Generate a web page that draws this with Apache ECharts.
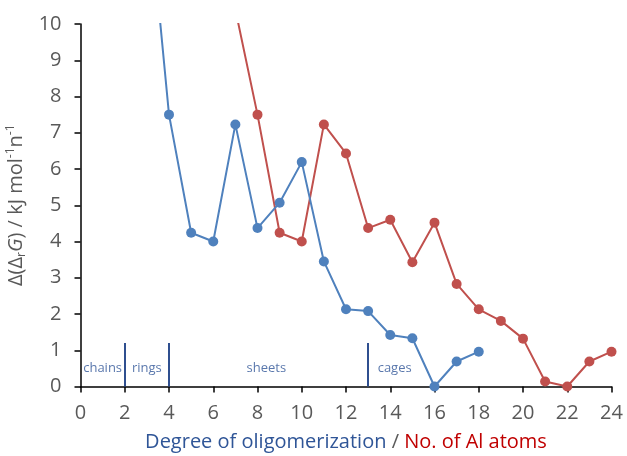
<!DOCTYPE html>
<html><head><meta charset="utf-8">
<script src="https://cdn.jsdelivr.net/npm/echarts@6/dist/echarts.min.js"></script>
<style>html,body{margin:0;padding:0;background:#fff}#c{width:627px;height:456px}</style>
</head><body><div id="c"></div>
<script>
var blueX = [3, 4, 5, 6, 7, 8, 9, 10, 11, 12, 13, 14, 15, 16, 17, 18];
var blueY = [13.9, 7.5, 4.24, 4.0, 7.23, 4.37, 5.07, 6.19, 3.45, 2.13, 2.08, 1.42, 1.33, 0.0, 0.69, 0.96];
var redX = [7, 8, 9, 10, 11, 12, 13, 14, 15, 16, 17, 18, 19, 20, 21, 22, 23, 24];
var redY = [10.4, 7.5, 4.24, 4.0, 7.23, 6.43, 4.37, 4.6, 3.43, 4.52, 2.83, 2.13, 1.81, 1.32, 0.14, 0.0, 0.69, 0.96];
var dividerX = [2, 4, 13];
var dividerTop = 1.2;
var regionNames = ['chains', 'rings', 'sheets', 'cages'];
var regionX = [1, 3, 8.4, 14.2];
var regionY = [0.5, 0.5, 0.5, 0.5];
var xTicks = [0, 2, 4, 6, 8, 10, 12, 14, 16, 18, 20, 22, 24];
var yTicks = [0, 1, 2, 3, 4, 5, 6, 7, 8, 9, 10];

var BLUE = '#4F81BD', RED = '#C0504D', DARK = '#2F4F8F';
var chart = echarts.init(document.getElementById('c'));
function pairs(xs, ys){ return xs.map(function(x,i){return [x, ys[i]];}); }

chart.setOption({
  animation: false,
  grid: {left: 80.5, right: 15.5, top: 24, bottom: 69.5, containLabel: false, outerBoundsMode: 'none'},
  xAxis: {
    type: 'value', min: 0, max: 24, interval: 2,
    axisLine: {lineStyle: {color: '#000', width: 1.5}},
    axisTick: {show: true, length: 6, lineStyle: {color: '#000', width: 1.5}},
    axisLabel: {color: '#595959', fontSize: 20, fontFamily: 'Open Sans', margin: 17},
    splitLine: {show: false},
    name: '{b|Degree of oligomerization}{g| / }{r|No. of Al atoms}',
    nameLocation: 'middle', nameGap: 46,
    nameTextStyle: {
      rich: {
        b: {color: '#2F5597', fontSize: 20, fontFamily: 'Open Sans'},
        g: {color: '#595959', fontSize: 20, fontFamily: 'Open Sans'},
        r: {color: '#C00000', fontSize: 20, fontFamily: 'Open Sans'}
      }
    }
  },
  yAxis: {
    type: 'value', min: 0, max: 10, interval: 1,
    axisLine: {show: true, lineStyle: {color: '#000', width: 1.5}},
    axisTick: {show: true, length: 6, lineStyle: {color: '#000', width: 1.5}},
    axisLabel: {color: '#595959', fontSize: 20, fontFamily: 'Open Sans', margin: 19},
    splitLine: {show: false},
    name: '{n|Δ(Δ}{sub|r}{i|G}{n|) / kJ mol}{sup|-1}{n|n}{sup|-1}',
    nameLocation: 'middle', nameGap: 47, nameRotate: 90,
    nameTextStyle: {
      rich: {
        n: {color: '#595959', fontSize: 20, fontFamily: 'Open Sans', lineHeight: 26},
        i: {color: '#595959', fontSize: 20, fontFamily: 'Open Sans', fontStyle: 'italic', lineHeight: 26},
        sub: {color: '#595959', fontSize: 12, fontFamily: 'Open Sans', padding: [11, 0, 0, 0]},
        sup: {color: '#595959', fontSize: 12, fontFamily: 'Open Sans', padding: [0, 0, 11, 0]}
      }
    }
  },
  series: [
    {
      type: 'line', data: pairs(blueX, blueY), clip: true,
      symbol: 'circle', symbolSize: 10,
      lineStyle: {color: BLUE, width: 2}, itemStyle: {color: BLUE}, z: 3
    },
    {
      type: 'line', data: pairs(redX, redY), clip: true,
      symbol: 'circle', symbolSize: 10,
      lineStyle: {color: RED, width: 2}, itemStyle: {color: RED}, z: 2
    },
    {
      type: 'scatter', symbolSize: 0, silent: true,
      data: regionNames.map(function(n,i){return {name: n, value: [regionX[i], regionY[i]]};}),
      label: {show: true, position: 'inside', formatter: '{b}', color: '#2F5597', fontSize: 13, fontFamily: 'Open Sans'},
      markLine: {
        silent: true, symbol: ['none', 'none'], label: {show: false},
        lineStyle: {color: DARK, width: 2, type: 'solid'},
        data: dividerX.map(function(x){return [{coord: [x, 0]}, {coord: [x, dividerTop]}];})
      }
    }
  ]
});
</script></body></html>
